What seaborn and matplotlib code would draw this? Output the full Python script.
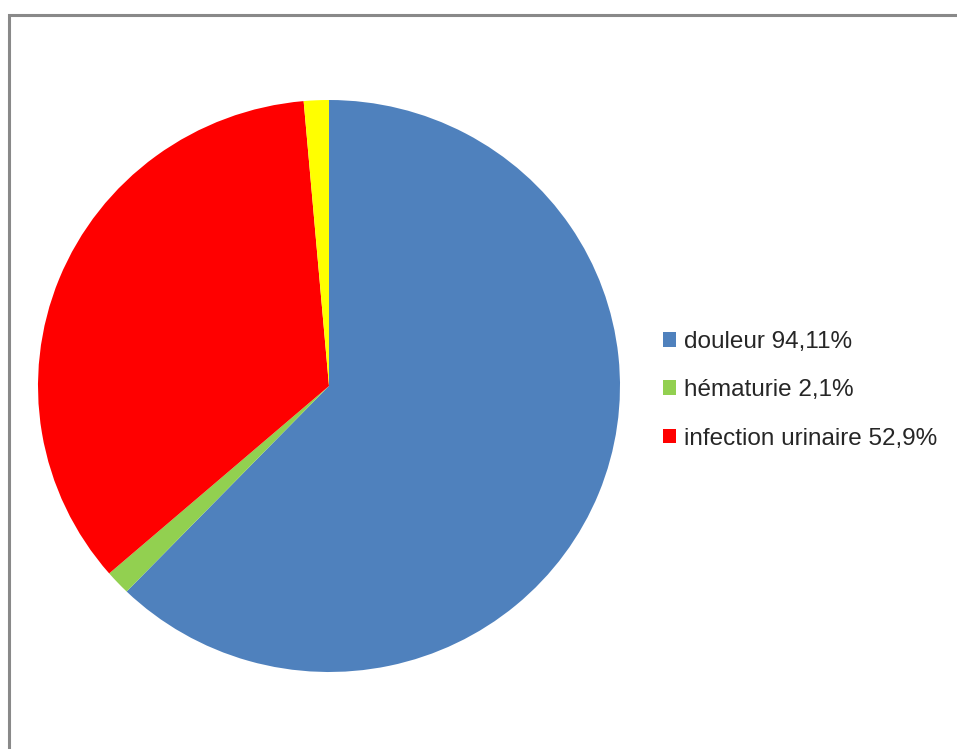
import matplotlib
matplotlib.use("Agg")
import matplotlib.pyplot as plt
import matplotlib.patches as mpatches
import seaborn as sns

# Symptom shares (values as printed in the legend)
labels = ["douleur 94,11%", "hématurie 2,1%", "infection urinaire 52,9%", ""]
values = [94.11, 2.1, 52.9, 2.1]
colors = ["#4F81BD", "#92D050", "#FF0000", "#FFFF00"]

sns.set_theme(style="white")
plt.rcParams["font.family"] = ["Liberation Sans", "DejaVu Sans"]

W, H = 957, 749
fig = plt.figure(figsize=(W / 100, H / 100), dpi=100)
fig.patch.set_facecolor("white")

# Chart area border (runs off the right and bottom edges)
fig.patches.append(mpatches.Rectangle(
    (9 / W, -0.05), 1.2, (H - 15) / H + 0.05,
    transform=fig.transFigure, fill=False, edgecolor="#898989", linewidth=2.2))

# Pie area (slightly wider than tall)
cx, cy, rx, ry = 329, 386, 291, 286
ax = fig.add_axes([(cx - rx) / W, (H - cy - ry) / H, 2 * rx / W, 2 * ry / H])
wedges, _ = ax.pie(values, colors=colors, startangle=90, counterclock=False,
                   wedgeprops=dict(linewidth=0))
ax.set_xlim(-1, 1)
ax.set_ylim(-1, 1)
ax.set_aspect("auto")
ax.axis("off")

handles = [mpatches.Patch(facecolor=c, edgecolor="none", label=l)
           for c, l in zip(colors[:3], labels[:3])]
fig.legend(handles=handles, loc="upper left", bbox_to_anchor=(663 / W, 1 - 331 / H),
           frameon=False, fontsize=17.5, handlelength=0.55, handleheight=0.55,
           handletextpad=0.33, labelspacing=1.08, borderaxespad=0, borderpad=0,
           labelcolor="#262626")

fig.savefig("out.png", dpi=100)
